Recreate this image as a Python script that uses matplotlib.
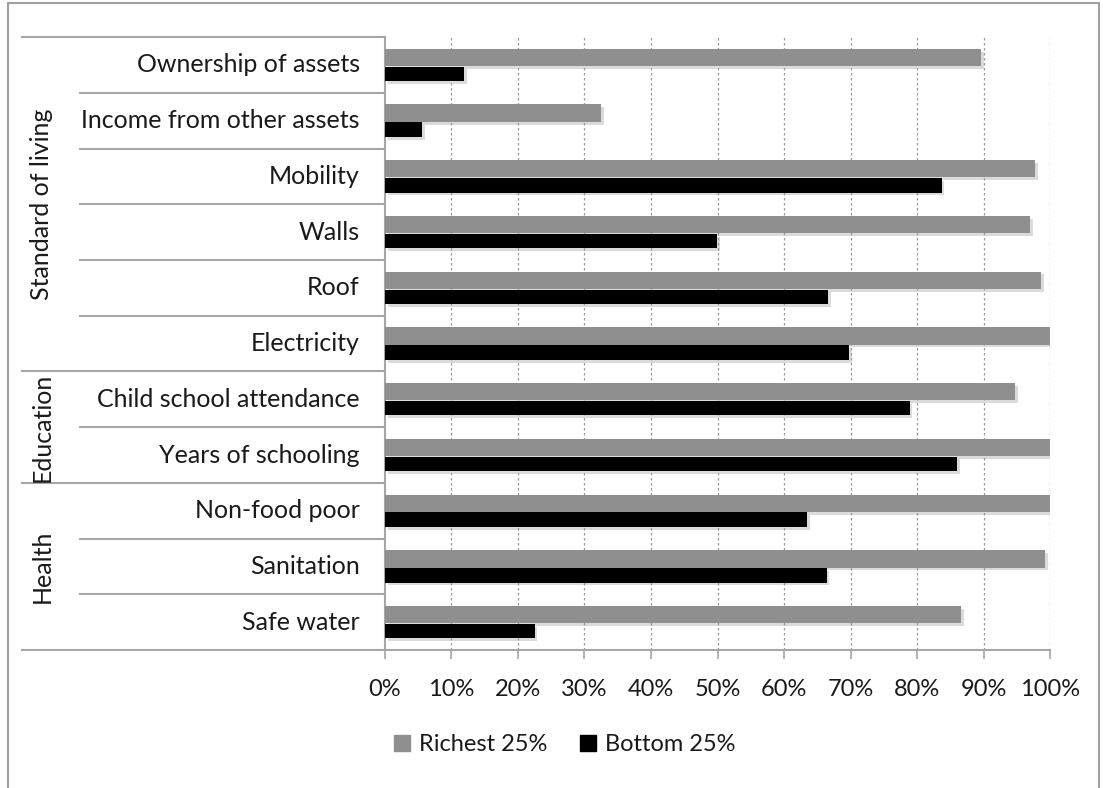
import matplotlib.pyplot as plt
import matplotlib.patheffects as pe
from matplotlib.lines import Line2D
from matplotlib.patches import Rectangle
import numpy as np

plt.rcParams['font.family'] = ['Lato', 'DejaVu Sans']

# data, top to bottom
categories = ["Ownership of assets", "Income from other assets", "Mobility", "Walls",
              "Roof", "Electricity", "Child school attendance", "Years of schooling",
              "Non-food poor", "Sanitation", "Safe water"]
richest = [89.6, 32.5, 97.8, 97.0, 98.7, 100.0, 94.7, 100.0, 100.0, 99.2, 86.6]
bottom = [11.9, 5.6, 83.7, 49.9, 66.6, 69.8, 78.9, 86.0, 63.5, 66.4, 22.5]
groups = ["Standard of living", "Education", "Health"]
group_sizes = [6, 2, 3]
xticks = np.arange(0, 101, 10)

grey = "#8f8f8f"
line_c = "#a6a6a6"
txt_c = "#1a1a1a"
fs = 17
fs_lab = 18

fig = plt.figure(figsize=(11.03, 7.88), dpi=100)
ax = fig.add_axes([0.349, 0.175, 0.603, 0.778])

y = np.arange(len(categories))
shadow = [pe.SimplePatchShadow(offset=(2, -2), shadow_rgbFace="#999999", alpha=0.35), pe.Normal()]
ax.barh(y - 0.135, richest, height=0.31, color=grey, label="Richest 25%", zorder=3,
        path_effects=shadow)
ax.barh(y + 0.16, bottom, height=0.26, color="black", label="Bottom 25%", zorder=3,
        path_effects=shadow)

ax.set_xlim(0, 100)
ax.set_ylim(len(categories) - 0.5, -0.5)
ax.set_xticks(xticks)
ax.set_xticklabels([f"{v}%" for v in xticks], fontsize=fs, color=txt_c)
ax.tick_params(axis="x", length=6.5, width=1.2, color=line_c, pad=14)
ax.set_yticks([])
for v in xticks[1:]:
    ax.axvline(v, color="#9a9a9a", lw=0.9, ls=(0, (2, 2)), zorder=1)

for s in ["top", "right"]:
    ax.spines[s].set_visible(False)
for s in ["left", "bottom"]:
    ax.spines[s].set_color(line_c)
    ax.spines[s].set_linewidth(1.5)

# category labels and separators
tr = ax.get_yaxis_transform()
for i, c in enumerate(categories):
    ax.text(-0.038, i, c, transform=tr, ha="right", va="center", fontsize=fs_lab, color=txt_c)

starts = np.cumsum([0] + group_sizes)
group_edges = set(starts)
for b in range(len(categories) + 1):
    x0 = -0.546 if b in group_edges else -0.459
    ax.plot([x0, 0], [b - 0.5, b - 0.5], transform=tr, color=line_c, lw=1.5,
            clip_on=False, zorder=2)

for g, s0, n in zip(groups, starts[:-1], group_sizes):
    ax.text(-0.516, s0 + n / 2 - 0.5, g, transform=tr, rotation=90, ha="center",
            va="center", fontsize=fs_lab, color=txt_c)

handles = [Line2D([], [], marker="s", ls="", color=grey, markersize=11.5),
           Line2D([], [], marker="s", ls="", color="black", markersize=11.5)]
fig.legend(handles, ["Richest 25%", "Bottom 25%"], loc="center", bbox_to_anchor=(0.512, 0.055),
           ncol=2, frameon=False, fontsize=fs, handlelength=0.7, handletextpad=0.35,
           columnspacing=1.4, labelcolor=txt_c)

# chart area border
fig.patches.append(Rectangle((8 / 1103, -0.05), 1091 / 1103, 1.05 - 3 / 788, transform=fig.transFigure,
                             fill=False, edgecolor="#a0a0a0", lw=1.5))

fig.savefig("out.png", dpi=100)
